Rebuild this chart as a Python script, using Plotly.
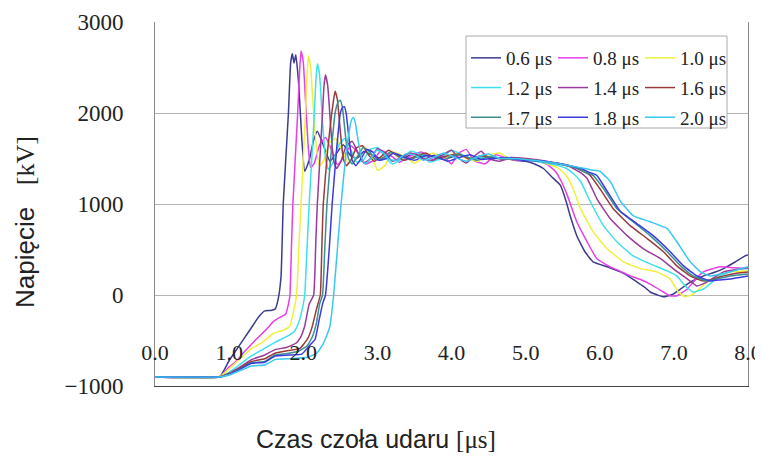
import plotly.graph_objects as go

# front times of the surge (legend labels) and Excel-like series colours
labels = ["0.6 μs", "0.8 μs", "1.0 μs", "1.2 μs", "1.4 μs", "1.6 μs", "1.7 μs", "1.8 μs", "2.0 μs"]
colors = ["#3b3b8f", "#e83ee8", "#f0f03a", "#3ee0ea", "#9a3a9a", "#9a3a3a", "#3a8f8f", "#3a3ae0", "#3ac8f2"]

# voltage waveforms: time [us], voltage [kV]
t06 = [0, 0.87, 1.0, 1.1, 1.2, 1.3, 1.4, 1.48, 1.56, 1.62, 1.66, 1.70, 1.73, 1.80, 1.83, 1.853, 1.876, 1.90, 1.94, 1.98,
       2.02, 2.08, 2.14, 2.19, 2.27, 2.36, 2.45, 2.54, 2.63, 2.72, 2.82, 2.92, 3.05, 3.2, 3.35, 3.5, 3.65, 3.8, 3.95, 4.1,
       4.25, 4.4, 4.55, 4.7, 4.85, 5.0, 5.12, 5.24, 5.35, 5.47, 5.55, 5.6, 5.69, 5.80, 5.91, 6.10, 6.28, 6.40, 6.50, 6.60,
       6.68, 6.78, 6.86, 6.99, 7.08, 7.18, 7.29, 7.40, 7.55, 7.67, 7.82, 7.96, 8.0]
v06 = [-900, -900, -720, -600, -480, -360, -240, -175, -170, -155, -50, 200, 1000, 2000, 2550, 2650, 2550, 2640, 2300, 1720,
       1360, 1480, 1700, 1800, 1650, 1470, 1560, 1650, 1540, 1500, 1580, 1540, 1500, 1560, 1510, 1550, 1500, 1545, 1505, 1540,
       1490, 1530, 1500, 1510, 1480, 1470, 1440, 1390, 1300, 1205, 1020, 873, 652, 475, 365, 310, 254, 200, 144, 90,
       33, 0, -20, 10, 60, 120, 170, 210, 250, 290, 360, 430, 440]

t08 = [0, 0.87, 1.0, 1.08, 1.2, 1.35, 1.5, 1.6, 1.69, 1.76, 1.80, 1.82, 1.84, 1.86, 1.925, 1.95, 1.97, 2.0, 2.04, 2.07,
       2.10, 2.15, 2.22, 2.30, 2.38, 2.46, 2.55, 2.64, 2.74, 2.84, 2.95, 3.05, 3.2, 3.3, 3.45, 3.6, 3.75, 3.9, 4.0, 4.1,
       4.2, 4.3, 4.45, 4.6, 4.75, 4.9, 5.05, 5.2, 5.3, 5.4, 5.48, 5.56, 5.69, 5.83, 5.96, 6.14, 6.28, 6.41, 6.55, 6.68,
       6.86, 6.95, 7.04, 7.18, 7.30, 7.40, 7.62, 7.8, 8.0]
v08 = [-900, -900, -790, -740, -630, -500, -380, -290, -243, -215, -100, 0, 500, 1000, 2000, 2450, 2680, 2560, 2000, 1600,
       1400, 1450, 1650, 1730, 1600, 1430, 1520, 1640, 1560, 1440, 1480, 1590, 1520, 1460, 1530, 1570, 1490, 1520, 1440, 1560,
       1600, 1480, 1440, 1540, 1500, 1480, 1490, 1460, 1430, 1360, 1250, 1100, 805, 585, 400, 310, 260, 210, 170, 120,
       33, -10, -10, 66, 180, 254, 310, 300, 290]

t10 = [0, 0.87, 1.0, 1.15, 1.3, 1.45, 1.6, 1.72, 1.82, 1.87, 1.91, 1.94, 1.97, 2.03, 2.05, 2.07, 2.10, 2.14, 2.18, 2.22,
       2.28, 2.36, 2.44, 2.53, 2.61, 2.71, 2.81, 2.91, 3.0, 3.1, 3.2, 3.35, 3.5, 3.6, 3.75, 3.9, 4.05, 4.2, 4.35, 4.5,
       4.65, 4.8, 4.95, 5.1, 5.3, 5.45, 5.56, 5.64, 5.74, 5.91, 6.10, 6.32, 6.55, 6.77, 6.95, 7.06, 7.15, 7.26, 7.45, 7.6,
       7.76, 8.0]
v10 = [-900, -900, -810, -700, -590, -520, -420, -390, -340, -180, 0, 500, 1000, 2000, 2400, 2630, 2500, 2000, 1600, 1420,
       1480, 1680, 1720, 1580, 1450, 1500, 1630, 1560, 1370, 1420, 1570, 1530, 1450, 1500, 1560, 1490, 1560, 1500, 1470, 1540,
       1560, 1490, 1500, 1480, 1440, 1390, 1300, 1170, 950, 696, 508, 365, 290, 254, 177, 33, -20, 10, 144, 210,
       254, 265]

t12 = [0, 0.87, 1.0, 1.15, 1.3, 1.45, 1.62, 1.78, 1.88, 1.94, 1.98, 2.02, 2.05, 2.08, 2.15, 2.17, 2.19, 2.22, 2.26, 2.30,
       2.34, 2.40, 2.48, 2.56, 2.64, 2.72, 2.81, 2.90, 3.0, 3.1, 3.2, 3.3, 3.45, 3.6, 3.7, 3.85, 4.0, 4.15, 4.3, 4.45,
       4.6, 4.8, 5.0, 5.2, 5.4, 5.55, 5.65, 5.74, 5.87, 6.05, 6.23, 6.45, 6.68, 6.91, 7.04, 7.15, 7.26, 7.40, 7.62, 7.85,
       8.0]
v12 = [-900, -900, -850, -760, -670, -600, -520, -455, -400, -300, -180, 0, 500, 1000, 2000, 2350, 2540, 2420, 1900, 1500,
       1380, 1450, 1650, 1720, 1600, 1460, 1480, 1600, 1620, 1520, 1440, 1480, 1580, 1540, 1460, 1500, 1590, 1540, 1490, 1520,
       1500, 1510, 1490, 1460, 1430, 1390, 1330, 1250, 1030, 762, 585, 430, 342, 265, 210, 100, 33, 66, 210, 280,
       290]

t14 = [0, 0.87, 1.0, 1.15, 1.3, 1.48, 1.62, 1.78, 1.90, 1.96, 2.02, 2.08, 2.14, 2.17, 2.19, 2.26, 2.28, 2.30, 2.33, 2.37,
       2.41, 2.45, 2.51, 2.58, 2.66, 2.74, 2.82, 2.91, 3.0, 3.1, 3.2, 3.3, 3.45, 3.6, 3.75, 3.9, 4.0, 4.1, 4.2, 4.3,
       4.4, 4.5, 4.65, 4.8, 5.0, 5.2, 5.4, 5.6, 5.75, 5.83, 5.96, 6.14, 6.37, 6.59, 6.82, 6.99, 7.18, 7.31, 7.45, 7.67,
       7.85, 8.0]
v14 = [-900, -900, -860, -790, -710, -660, -600, -575, -530, -470, -340, -100, 0, 600, 1000, 2000, 2300, 2420, 2300, 1850,
       1480, 1390, 1470, 1640, 1690, 1560, 1450, 1500, 1610, 1560, 1470, 1500, 1560, 1500, 1480, 1550, 1590, 1500, 1450, 1520,
       1580, 1500, 1470, 1510, 1500, 1480, 1450, 1410, 1340, 1280, 1060, 840, 652, 508, 400, 290, 177, 100, 144, 254,
       280, 300]

t16 = [0, 0.87, 1.0, 1.15, 1.3, 1.48, 1.62, 1.80, 1.95, 2.06, 2.12, 2.18, 2.23, 2.25, 2.27, 2.33, 2.385, 2.41, 2.43, 2.46,
       2.50, 2.54, 2.58, 2.64, 2.72, 2.80, 2.88, 2.96, 3.05, 3.15, 3.25, 3.35, 3.5, 3.65, 3.8, 3.95, 4.1, 4.25, 4.4, 4.55,
       4.7, 4.85, 5.0, 5.2, 5.4, 5.6, 5.75, 5.87, 6.0, 6.18, 6.41, 6.64, 6.86, 7.04, 7.22, 7.40, 7.55, 7.67, 7.85, 8.0]
v16 = [-900, -900, -865, -800, -730, -700, -640, -610, -590, -480, -350, -150, 0, 500, 1000, 1600, 2000, 2150, 2240, 2150,
       1800, 1500, 1420, 1480, 1620, 1640, 1540, 1470, 1520, 1590, 1540, 1480, 1520, 1560, 1500, 1530, 1550, 1490, 1530, 1510,
       1490, 1500, 1495, 1470, 1450, 1420, 1370, 1315, 1170, 950, 762, 620, 475, 320, 210, 155, 180, 210, 240, 254]

t17 = [0, 0.87, 1.0, 1.15, 1.3, 1.48, 1.62, 1.80, 1.93, 2.05, 2.12, 2.18, 2.22, 2.26, 2.29, 2.32, 2.38, 2.43, 2.47, 2.50,
       2.53, 2.57, 2.61, 2.66, 2.73, 2.81, 2.89, 2.97, 3.07, 3.17, 3.3, 3.45, 3.6, 3.75, 3.9, 4.05, 4.2, 4.35, 4.5, 4.7,
       4.9, 5.1, 5.3, 5.5, 5.7, 5.8, 5.91, 6.05, 6.23, 6.45, 6.68, 6.91, 7.09, 7.26, 7.45, 7.6, 7.76, 8.0]
v17 = [-900, -900, -870, -810, -745, -730, -660, -640, -620, -560, -465, -300, -100, 0, 500, 1000, 1600, 2000, 2120, 2140,
       2050, 1750, 1500, 1440, 1520, 1620, 1580, 1490, 1500, 1570, 1530, 1490, 1540, 1520, 1490, 1540, 1520, 1480, 1520, 1500,
       1490, 1480, 1460, 1430, 1390, 1350, 1315, 1170, 950, 805, 652, 475, 320, 210, 155, 180, 210, 232]

t18 = [0, 0.87, 1.0, 1.15, 1.3, 1.48, 1.62, 1.80, 1.98, 2.08, 2.16, 2.22, 2.26, 2.30, 2.35, 2.39, 2.45, 2.50, 2.53, 2.555,
       2.58, 2.62, 2.66, 2.71, 2.78, 2.86, 2.94, 3.02, 3.12, 3.22, 3.35, 3.5, 3.65, 3.8, 3.95, 4.1, 4.25, 4.4, 4.55, 4.75,
       4.95, 5.15, 5.35, 5.55, 5.75, 5.85, 5.96, 6.10, 6.28, 6.50, 6.72, 6.95, 7.13, 7.31, 7.49, 7.6, 7.76, 8.0]
v18 = [-900, -900, -875, -815, -750, -740, -670, -660, -650, -560, -486, -250, -100, 0, 500, 1000, 1600, 2000, 2060, 2070,
       1990, 1700, 1480, 1420, 1500, 1600, 1570, 1480, 1500, 1560, 1520, 1480, 1530, 1520, 1470, 1510, 1540, 1490, 1500, 1510,
       1480, 1475, 1460, 1430, 1390, 1350, 1315, 1140, 917, 785, 652, 475, 320, 210, 155, 165, 177, 210]

t20 = [0, 0.87, 1.0, 1.15, 1.3, 1.48, 1.62, 1.85, 2.06, 2.18, 2.25, 2.30, 2.36, 2.41, 2.46, 2.51, 2.57, 2.63, 2.65, 2.676,
       2.70, 2.74, 2.79, 2.84, 2.91, 2.99, 3.07, 3.16, 3.26, 3.38, 3.5, 3.62, 3.75, 3.9, 4.05, 4.2, 4.35, 4.5, 4.65, 4.8,
       5.0, 5.2, 5.4, 5.6, 5.8, 5.92, 6.0, 6.14, 6.28, 6.45, 6.68, 6.91, 7.04, 7.22, 7.36, 7.49, 7.62, 7.76, 8.0]
v20 = [-900, -900, -880, -830, -780, -770, -710, -700, -685, -640, -563, -480, -340, 0, 500, 1000, 1500, 1850, 1920, 1950,
       1900, 1700, 1500, 1440, 1500, 1590, 1570, 1490, 1480, 1550, 1540, 1480, 1510, 1560, 1510, 1470, 1520, 1550, 1500, 1500,
       1490, 1470, 1450, 1420, 1390, 1370, 1360, 1250, 1030, 873, 805, 730, 585, 365, 254, 210, 230, 254, 310]

times = [t06, t08, t10, t12, t14, t16, t17, t18, t20]
volts = [v06, v08, v10, v12, v14, v16, v17, v18, v20]

x_ticks = [0, 1, 2, 3, 4, 5, 6, 7, 8]
y_ticks = [-1000, 0, 1000, 2000, 3000]

# the page puts the figure 8 px in from the window corner
OFF = 8
W, H = 763 - OFF, 457 - OFF
L, R, T, B = 155 - OFF, 15, 22 - OFF, 71
PW, PH = W - L - R, H - T - B


def px(x):  # window pixel -> paper x
    return (x - OFF - L) / PW


def py(y):  # window pixel -> paper y
    return (H - B - (y - OFF)) / PH


fig = go.Figure()
legends = ["legend", "legend2", "legend3"]
for i in range(len(labels)):
    assert len(times[i]) == len(volts[i]), labels[i]
    fig.add_trace(go.Scatter(
        x=times[i], y=volts[i], mode="lines", name=labels[i],
        line=dict(color=colors[i], width=1.5, shape="spline", smoothing=0.4),
        legend=legends[i % 3], legendgroup=labels[i],
    ))

serif = "Liberation Serif, Times New Roman, serif"
sans = "Liberation Sans, Arial, sans-serif"

leg = dict(font=dict(family=serif, size=19, color="#222"), bgcolor="rgba(0,0,0,0)",
           borderwidth=0, tracegroupgap=2, xanchor="left", yanchor="top", itemwidth=30)

fig.update_layout(
    width=W, height=H,
    margin=dict(l=L, r=R, t=T, b=B, pad=0, autoexpand=False),
    paper_bgcolor="white", plot_bgcolor="white",
    font=dict(family=serif, color="#222"),
    showlegend=True,
    legend=dict(leg, x=px(466), y=py(39)),
    legend2=dict(leg, x=px(553), y=py(39)),
    legend3=dict(leg, x=px(640), y=py(39)),
    xaxis=dict(
        range=[0, 8], tickvals=x_ticks, tickformat=".1f", automargin=False,
        showgrid=False, zeroline=False,
        showline=True, linecolor="#444", linewidth=1, mirror=False,
        ticks="", ticklabelposition="inside", ticklabeloverflow="allow",
        ticklabelstandoff=23,
        tickfont=dict(family=serif, size=22, color="#222"),
    ),
    xaxis2=dict(
        range=[0, 8], matches="x", overlaying="x", anchor="free", position=0.25, automargin=False,
        tickvals=x_ticks, ticks="inside", ticklen=6, tickcolor="#999",
        showticklabels=False, showgrid=False, zeroline=False, showline=False,
    ),
    yaxis=dict(
        range=[-1000, 3000], tickvals=y_ticks, automargin=False,
        showgrid=True, gridcolor="#b4b4b4", gridwidth=1, zeroline=False,
        showline=True, linecolor="#888", linewidth=1, mirror=True,
        ticks="", ticklabelstandoff=26,
        tickfont=dict(family=serif, size=23, color="#222"),
    ),
    shapes=[dict(type="rect", xref="paper", yref="paper",
                 x0=px(466), x1=px(727), y0=py(128), y1=py(36),
                 fillcolor="white", line=dict(color="#aaa", width=1), layer="above")],
    annotations=[
        dict(text="Czas czoła udaru <span style='font-family:Liberation Serif'>[μs]</span>",
             xref="paper", yref="paper", x=px(376), y=py(439), xanchor="center", yanchor="middle",
             showarrow=False, font=dict(family=sans, size=25, color="#222")),
        dict(text="Napięcie\u00a0\u00a0\u00a0<span style='font-family:Liberation Serif'>[kV]</span>",
             xref="paper", yref="paper", x=px(25), y=py(222), xanchor="center", yanchor="middle",
             showarrow=False, textangle=-90, font=dict(family=sans, size=26, color="#222")),
    ],
)

fig.write_html("out.html")
